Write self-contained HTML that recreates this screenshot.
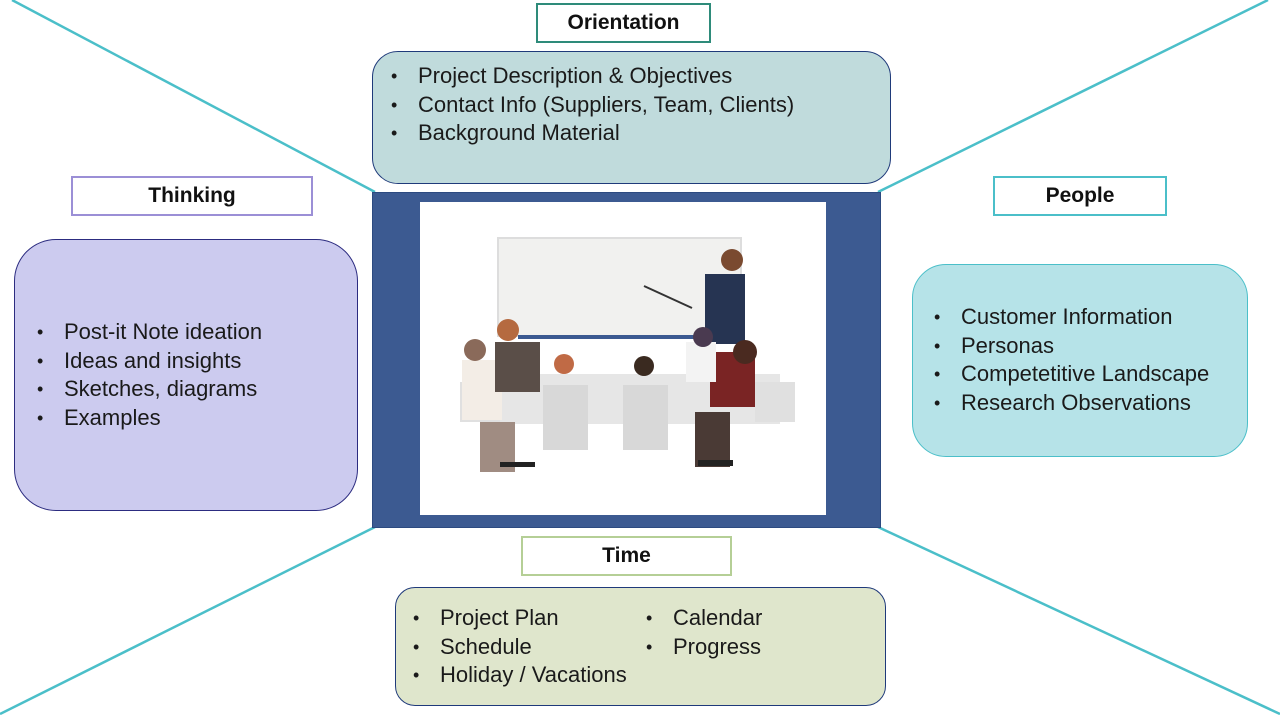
<!DOCTYPE html>
<html><head><style>
body{margin:0;width:1280px;height:720px;background:#fff;position:relative;overflow:hidden;font-family:"Liberation Sans",sans-serif}
.a{position:absolute;box-sizing:border-box}
.lbl{background:#fff;border:2.5px solid;font-weight:bold;font-size:21px;text-align:center;color:#111}
.box{border:1.5px solid;color:#1a1a1a;font-size:22px}
ul{margin:0;padding:0;list-style:none}
li{position:relative;padding-left:27px;line-height:28.5px;height:28.5px;white-space:nowrap}
li:before{content:"•";position:absolute;left:0;font-size:18px}
</style></head><body>
<svg class="a" style="left:0;top:0" width="1280" height="720">
<g stroke="#4bbfc9" stroke-width="2.5">
<line x1="12" y1="0" x2="375" y2="192"/>
<line x1="1268" y1="0" x2="878" y2="192"/>
<line x1="0" y1="714" x2="375" y2="527"/>
<line x1="1280" y1="714" x2="878" y2="527"/>
</g></svg>

<div class="a lbl" style="left:536px;top:3px;width:175px;height:40px;line-height:36px;border-color:#2e8b7a">Orientation</div>
<div class="a box" style="left:372px;top:51px;width:519px;height:133px;border-radius:26px;background:#c0dbdc;border-color:#1f3a7a;padding:10px 0 0 18px">
<ul><li>Project Description &amp; Objectives</li><li>Contact Info (Suppliers, Team, Clients)</li><li>Background Material</li></ul></div>

<div class="a lbl" style="left:71px;top:176px;width:242px;height:40px;line-height:36px;border-color:#9b8fd6">Thinking</div>
<div class="a box" style="left:14px;top:239px;width:344px;height:272px;border-radius:42px;background:#cccbef;border-color:#2c2c80;padding:78px 0 0 22px">
<ul><li>Post-it Note ideation</li><li>Ideas and insights</li><li>Sketches, diagrams</li><li>Examples</li></ul></div>

<div class="a lbl" style="left:993px;top:176px;width:174px;height:40px;line-height:36px;border-color:#4bbfc9">People</div>
<div class="a box" style="left:912px;top:264px;width:336px;height:193px;border-radius:34px;background:#b6e3e8;border-color:#4bbfc9;padding:38px 0 0 21px">
<ul><li>Customer Information</li><li>Personas</li><li>Competetitive Landscape</li><li>Research Observations</li></ul></div>

<div class="a lbl" style="left:521px;top:536px;width:211px;height:40px;line-height:36px;border-color:#b5cf96">Time</div>
<div class="a box" style="left:395px;top:587px;width:491px;height:119px;border-radius:20px;background:#dfe6cc;border-color:#1f3a7a">
<ul style="position:absolute;left:17px;top:16px"><li>Project Plan</li><li>Schedule</li><li>Holiday / Vacations</li></ul>
<ul style="position:absolute;left:250px;top:16px"><li>Calendar</li><li>Progress</li></ul></div>

<div class="a" style="left:372px;top:192px;width:509px;height:336px;background:#3c5a91;border:1px solid #2c4a80"></div>
<svg class="a" style="left:420px;top:202px" width="406" height="313">
<rect width="406" height="313" fill="#fff"/>
<rect x="78" y="36" width="243" height="98" fill="#f1f1ef" stroke="#ddd" stroke-width="2"/>
<rect x="98" y="133" width="200" height="4" fill="#3c5a91"/>
<line x1="224" y1="84" x2="272" y2="106" stroke="#333" stroke-width="2"/>
<rect x="285" y="72" width="40" height="70" fill="#263452"/>
<circle cx="312" cy="58" r="11" fill="#7a4a30"/>
<rect x="80" y="172" width="280" height="50" fill="#e6e6e6"/>
<rect x="40" y="180" width="40" height="40" fill="#e0e0e0"/>
<rect x="335" y="180" width="40" height="40" fill="#e0e0e0"/>
<rect x="42" y="158" width="40" height="60" fill="#f3ede6"/>
<circle cx="55" cy="148" r="11" fill="#8a6a5a"/>
<rect x="75" y="140" width="45" height="50" fill="#5a4e48"/>
<circle cx="88" cy="128" r="11" fill="#b56a40"/>
<rect x="290" y="150" width="45" height="55" fill="#7a2424"/>
<circle cx="325" cy="150" r="12" fill="#4a2a20"/>
<rect x="266" y="140" width="30" height="40" fill="#f3f3f3"/>
<circle cx="283" cy="135" r="10" fill="#4a3a50"/>
<rect x="123" y="183" width="45" height="65" fill="#d8d8d8"/>
<circle cx="144" cy="162" r="10" fill="#c06a45"/>
<rect x="203" y="183" width="45" height="65" fill="#d8d8d8"/>
<circle cx="224" cy="164" r="10" fill="#3a2a20"/>
<rect x="60" y="220" width="35" height="50" fill="#a08c82"/>
<rect x="275" y="210" width="35" height="55" fill="#4a3a35"/>
<rect x="80" y="260" width="35" height="5" fill="#222"/>
<rect x="278" y="258" width="35" height="6" fill="#222"/>
</svg>
</body></html>
